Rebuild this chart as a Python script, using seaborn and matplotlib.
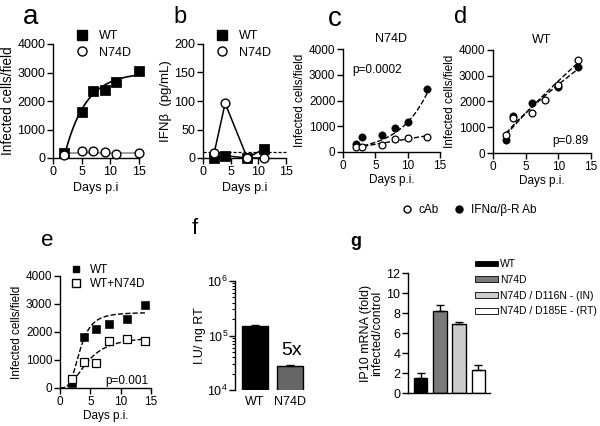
import numpy as np
import pandas as pd
import matplotlib
matplotlib.use("Agg")
import matplotlib.pyplot as plt
import seaborn as sns
from matplotlib.lines import Line2D
from matplotlib.patches import Patch

sns.set_style("ticks")
plt.rcParams['font.family'] = ['Liberation Sans', 'DejaVu Sans']
plt.rcParams['axes.linewidth'] = 1.0
plt.rcParams['xtick.major.width'] = 1.0
plt.rcParams['ytick.major.width'] = 1.0
plt.rcParams['xtick.major.size'] = 4
plt.rcParams['ytick.major.size'] = 4
plt.rcParams['xtick.color'] = 'black'
plt.rcParams['ytick.color'] = 'black'
plt.rcParams['axes.edgecolor'] = 'black'
plt.rcParams['text.color'] = 'black'
plt.rcParams['axes.labelcolor'] = 'black'

# ---------------- data ----------------
# panel a
a_days = [2, 5, 7, 9, 11, 15]
a_wt = [180, 1620, 2340, 2370, 2670, 3070]
a_n74d = [100, 250, 230, 200, 130, 190]
a_fit_wt = (3000, 0.27, 1.9)   # top, rate, onset of fitted WT curve

# panel b
b_days = [2, 4, 8, 11]
b_wt = [0, 4, 0, 16]
b_n74d = [8, 96, 0, 0]
b_threshold = 10

# panel c (N74D)
c_days = [2, 3, 6, 8, 10, 13]
c_cab = [195, 190, 290, 495, 530, 600]
c_ifnr = [325, 570, 675, 935, 1180, 2455]
c_fit_ifnr = (190, 0.226)      # exponential fit: A, k

# panel d (WT)
d_days_cab = [2, 3, 6, 8, 10, 13]
d_cab = [690, 1340, 1540, 2050, 2640, 3620]
d_days_ifnr = [2, 3, 6, 10, 13]
d_ifnr = [520, 1420, 1950, 2550, 3350]

# panel e
e_days = [2, 4, 6, 8, 11, 14]
e_wt = [190, 1810, 2100, 2270, 2450, 2980]
e_mix = [330, 940, 900, 1680, 1750, 1690]
e_fit_wt = (2700, 3.3, 3.5)    # Hill fit: top, EC50, n
e_fit_mix = (1850, 4.5, 2.5)

# panel f
f_cats = ["WT", "N74D"]
f_vals = [1.48e5, 2.75e4]
f_err = [6e3, 1e3]

# panel g
g_cats = ["WT", "N74D", "N74D / D116N - (IN)", "N74D / D185E - (RT)"]
g_vals = [1.55, 8.22, 6.88, 2.35]
g_err = [0.42, 0.55, 0.2, 0.42]
g_colors = ["#000000", "#7a7a7a", "#cccccc", "#ffffff"]

# ---------------- figure ----------------
W, H = 600, 426
fig = plt.figure(figsize=(6, 4.26), dpi=100)


def ax_px(left, right, top, bottom):
    return fig.add_axes([left / W, (H - bottom) / H, (right - left) / W, (bottom - top) / H])


def style(ax, tick_fs=8.5):
    sns.despine(ax=ax)
    ax.tick_params(labelsize=tick_fs, pad=1.5)


def unclip(ax):
    for art in ax.collections + ax.lines:
        art.set_clip_on(False)


def letter(x, y, s, size):
    fig.text(x / W, (H - y) / H, s, fontsize=size, ha='center', va='center')


# ----- panel a -----
ax = ax_px(53, 139, 44, 158)
top, k, x0 = a_fit_wt
xf = np.linspace(x0, 15, 200)
sns.lineplot(x=xf, y=top * (1 - np.exp(-k * (xf - x0))), ax=ax, color='black', lw=1.2)
mean_n = float(np.mean(a_n74d))
sns.lineplot(x=[a_days[0], a_days[-1]], y=[mean_n, mean_n], ax=ax, color='#8c8c8c', lw=1.2)
sns.scatterplot(x=a_days, y=a_wt, ax=ax, marker='s', s=45, color='black', edgecolor='black', zorder=3)
sns.scatterplot(x=a_days, y=a_n74d, ax=ax, marker='o', s=40, color='white', edgecolor='black', linewidth=1, zorder=3)
ax.set_xlim(0, 15); ax.set_ylim(0, 4000)
ax.set_xticks([0, 5, 10, 15]); ax.set_yticks([0, 1000, 2000, 3000, 4000])
ax.set_xlabel("Days p.i", fontsize=9, labelpad=3)
ax.set_ylabel("Infected cells/field", fontsize=9.8, labelpad=2)
style(ax, 9); unclip(ax)
ax.legend(handles=[Line2D([], [], marker='s', ls='', color='black', ms=6.5),
                   Line2D([], [], marker='o', ls='', mfc='white', mec='black', ms=6.5)],
          labels=["WT", "N74D"], loc='upper left', bbox_to_anchor=(68 / W, (H - 24) / H),
          bbox_transform=fig.transFigure, frameon=False, fontsize=9, handlelength=1.2,
          handletextpad=0.8, borderpad=0, labelspacing=0.35)
letter(31, 17, "a", 20)

# ----- panel b -----
ax = ax_px(203, 286, 44, 158)
ax.axhline(b_threshold, color='black', lw=0.9, ls=(0, (2.5, 1.5)))
sns.lineplot(x=b_days, y=b_n74d, ax=ax, color='black', lw=1.1)
sns.lineplot(x=b_days, y=b_wt, ax=ax, color='black', lw=1.1)
sns.scatterplot(x=b_days, y=b_wt, ax=ax, marker='s', s=45, color='black', edgecolor='black', zorder=3)
sns.scatterplot(x=b_days, y=b_n74d, ax=ax, marker='o', s=40, color='white', edgecolor='black', linewidth=1, zorder=4)
ax.set_xlim(0, 15); ax.set_ylim(0, 200)
ax.set_xticks([0, 5, 10, 15]); ax.set_yticks([0, 50, 100, 150, 200])
ax.set_xlabel("Days p.i", fontsize=9, labelpad=3)
ax.set_ylabel("IFN\u03b2  (pg/mL)", fontsize=9.5, labelpad=2)
style(ax, 9); unclip(ax)
ax.legend(handles=[Line2D([], [], marker='s', ls='', color='black', ms=6.5),
                   Line2D([], [], marker='o', ls='', mfc='white', mec='black', ms=6.5)],
          labels=["WT", "N74D"], loc='upper left', bbox_to_anchor=(208 / W, (H - 24) / H),
          bbox_transform=fig.transFigure, frameon=False, fontsize=9, handlelength=1.2,
          handletextpad=0.8, borderpad=0, labelspacing=0.35)
letter(180, 17, "b", 17)

# ----- panel c -----
ax = ax_px(343, 440, 49, 152)
A, kc = c_fit_ifnr
xf = np.linspace(2, 13, 200)
sns.lineplot(x=xf, y=A * np.exp(kc * (xf - 2)), ax=ax, color='black', lw=1.0, ls='--')
p = np.polyfit(c_days, c_cab, 1)
sns.lineplot(x=xf, y=np.polyval(p, xf), ax=ax, color='black', lw=1.0, ls='--')
sns.scatterplot(x=c_days, y=c_ifnr, ax=ax, marker='o', s=28, color='black', edgecolor='black', zorder=3)
sns.scatterplot(x=c_days, y=c_cab, ax=ax, marker='o', s=24, color='white', edgecolor='black', linewidth=0.9, zorder=3)
ax.set_xlim(0, 15); ax.set_ylim(0, 4000)
ax.set_xticks([0, 5, 10, 15]); ax.set_yticks([0, 1000, 2000, 3000, 4000])
ax.set_xlabel("Days p.i.", fontsize=8.5, labelpad=2)
ax.set_ylabel("Infected cells/field", fontsize=8.5, labelpad=2)
ax.set_title("N74D", fontsize=9, pad=5)
ax.text(1.5, 3200, "p=0.0002", fontsize=8.5, va='center')
style(ax, 8.5); unclip(ax)
letter(335, 19, "c", 20)

# ----- panel d -----
ax = ax_px(493, 591, 50, 153)
xf = np.linspace(2, 13, 200)
pc = np.polyfit(np.log(d_days_cab), np.log(d_cab), 1)
pi = np.polyfit(np.log(d_days_ifnr), np.log(d_ifnr), 1)
sns.lineplot(x=xf, y=np.exp(np.polyval(pc, np.log(xf))), ax=ax, color='black', lw=1.0, ls='--')
sns.lineplot(x=xf, y=np.exp(np.polyval(pi, np.log(xf))), ax=ax, color='black', lw=1.0, ls='--')
sns.scatterplot(x=d_days_ifnr, y=d_ifnr, ax=ax, marker='o', s=28, color='black', edgecolor='black', zorder=3)
sns.scatterplot(x=d_days_cab, y=d_cab, ax=ax, marker='o', s=24, color='white', edgecolor='black', linewidth=0.9, zorder=3)
ax.set_xlim(0, 15); ax.set_ylim(0, 4000)
ax.set_xticks([0, 5, 10, 15]); ax.set_yticks([0, 1000, 2000, 3000, 4000])
ax.set_xlabel("Days p.i.", fontsize=8.5, labelpad=2)
ax.set_ylabel("Infected cells/field", fontsize=8.5, labelpad=2)
ax.set_title("WT", fontsize=9, pad=5)
ax.text(14.6, 450, "p=0.89", fontsize=8.5, va='center', ha='right')
style(ax, 8.5); unclip(ax)
letter(461, 17, "d", 17)

fig.legend(handles=[Line2D([], [], marker='o', ls='', mfc='white', mec='black', ms=5),
                    Line2D([], [], marker='o', ls='', color='black', ms=5)],
           labels=["cAb", "IFN\u03b1/\u03b2-R Ab"], loc='center left',
           bbox_to_anchor=(395 / W, (H - 210) / H), frameon=False, fontsize=8.5, ncol=2,
           handlelength=1.0, handletextpad=0.5, columnspacing=1.2, borderpad=0)

# ----- panel e -----
ax = ax_px(60, 151, 276, 388)
xf = np.linspace(0, 14, 200)
for (tp, ec, n) in (e_fit_wt, e_fit_mix):
    sns.lineplot(x=xf, y=tp * xf ** n / (xf ** n + ec ** n), ax=ax, color='black', lw=1.0, ls='--')
sns.scatterplot(x=e_days, y=e_wt, ax=ax, marker='s', s=30, color='black', edgecolor='black', zorder=3)
sns.scatterplot(x=e_days, y=e_mix, ax=ax, marker='s', s=30, color='white', edgecolor='black', linewidth=0.9, zorder=3)
ax.set_xlim(0, 15); ax.set_ylim(0, 4000)
ax.set_xticks([0, 5, 10, 15]); ax.set_yticks([0, 1000, 2000, 3000, 4000])
ax.set_xlabel("Days p.i.", fontsize=8.5, labelpad=2)
ax.set_ylabel("Infected cells/field", fontsize=8.5, labelpad=2)
ax.text(14.6, 250, "p=0.001", fontsize=8.5, va='center', ha='right')
style(ax, 8.5); unclip(ax)
ax.legend(handles=[Line2D([], [], marker='s', ls='', color='black', ms=4.5),
                   Line2D([], [], marker='s', ls='', mfc='white', mec='black', ms=5.5)],
          labels=["WT", "WT+N74D"], loc='upper left', bbox_to_anchor=(64 / W, (H - 258) / H),
          bbox_transform=fig.transFigure, frameon=False, fontsize=8.5, handlelength=1.0,
          handletextpad=0.7, borderpad=0, labelspacing=0.2)
letter(47, 240, "e", 16)

# ----- panel f -----
ax = ax_px(235, 310, 281, 390)
ax.set_yscale('log')
df_f = pd.DataFrame({"cat": f_cats, "val": f_vals})
sns.barplot(data=df_f, x="cat", y="val", hue="cat", palette=["#000000", "#666666"], legend=False,
            ax=ax, width=0.74, edgecolor='black', linewidth=1, errorbar=None)
ax.errorbar(range(len(f_vals)), f_vals, yerr=[[0, 0], f_err], fmt='none', ecolor='black',
            capsize=3, elinewidth=1)
ax.set_ylim(1e4, 1e6); ax.set_xlim(-0.57, 1.56)
ax.set_xlabel(""); ax.set_ylabel("I.U/ ng RT", fontsize=9, labelpad=1)
sns.despine(ax=ax, bottom=True)
ax.tick_params(axis='x', length=0, labelsize=9, pad=4)
ax.tick_params(axis='y', labelsize=9, pad=1)
ax.tick_params(axis='y', which='minor', length=2, width=0.8)
ax.text(1.05, 5.2e4, "5x", fontsize=14, ha='center', va='center')
letter(195, 228, "f", 16)

# ----- panel g -----
ax = ax_px(408, 490, 273, 393)
df_g = pd.DataFrame({"cat": g_cats, "val": g_vals})
sns.barplot(data=df_g, x="cat", y="val", hue="cat", palette=g_colors, legend=False, ax=ax,
            width=0.7, edgecolor='black', linewidth=1, errorbar=None)
ax.errorbar(range(len(g_vals)), g_vals, yerr=[[0] * 4, g_err], fmt='none', ecolor='black',
            capsize=3, elinewidth=1)
ax.set_ylim(0, 12); ax.set_xlim(-0.65, 3.6)
ax.set_yticks([0, 2, 4, 6, 8, 10, 12])
ax.set_xticks([])
ax.set_xlabel("")
ax.set_ylabel("IP10 mRNA (fold)\ninfected/control", fontsize=9, labelpad=2, linespacing=1.0)
style(ax, 9)
ax.legend(handles=[Patch(facecolor=c, edgecolor='black', linewidth=0.6) for c in g_colors],
          labels=g_cats, loc='upper left', bbox_to_anchor=(470 / W, (H - 254) / H),
          bbox_transform=fig.transFigure, frameon=False, fontsize=7.5, handlelength=2.2,
          handleheight=0.5, handletextpad=0.2, borderpad=0, labelspacing=0.55)
letter(356, 241, "g", 13)
fig.texts[-1].set_fontweight('bold')

fig.savefig("out.png", dpi=100)
